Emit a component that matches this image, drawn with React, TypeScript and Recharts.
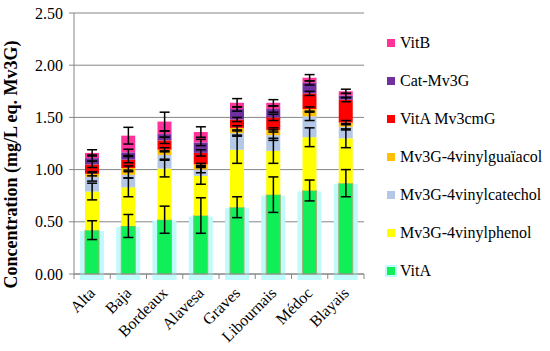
import React from 'react';
import { ComposedChart, Bar, Line, ErrorBar, XAxis, YAxis, CartesianGrid, Legend } from 'recharts';

const categories = ['Alta', 'Baja', 'Bordeaux', 'Alavesa', 'Graves', 'Libournais', 'Médoc', 'Blayais'];

// stacked segments, bottom to top
const vitA = [0.42, 0.46, 0.52, 0.56, 0.64, 0.76, 0.80, 0.87];
const vinylphenol = [0.37, 0.37, 0.49, 0.38, 0.55, 0.42, 0.51, 0.43];
const vinylcatechol = [0.14, 0.12, 0.13, 0.06, 0.16, 0.15, 0.20, 0.11];
const vinylguaiacol = [0.03, 0.065, 0.05, 0.05, 0.05, 0.05, 0.07, 0.04];
const vitAMv3cmG = [0.09, 0.08, 0.09, 0.11, 0.08, 0.12, 0.15, 0.22];
const catMv3G = [0.06, 0.07, 0.06, 0.10, 0.10, 0.08, 0.10, 0.04];
const vitB = [0.05, 0.16, 0.12, 0.10, 0.06, 0.06, 0.05, 0.04];

// +/- error of each segment
const vitAErr = [0.09, 0.11, 0.13, 0.17, 0.10, 0.17, 0.10, 0.13];
const vinylphenolErr = [0.08, 0.09, 0.08, 0.08, 0.13, 0.12, 0.09, 0.09];
const vinylcatecholErr = [0.04, 0.03, 0.04, 0.03, 0.02, 0.05, 0.04, 0.03];
const vinylguaiacolErr = [0.02, 0.02, 0.02, 0.01, 0.02, 0.02, 0.02, 0.02];
const vitAMv3cmGErr = [0.03, 0.03, 0.03, 0.03, 0.02, 0.03, 0.02, 0.02];
const catMv3GErr = [0.03, 0.03, 0.03, 0.03, 0.02, 0.03, 0.02, 0.02];
const vitBErr = [0.03, 0.08, 0.09, 0.05, 0.04, 0.03, 0.03, 0.02];

const yTicks = [0, 0.5, 1, 1.5, 2, 2.5];

const series = [
  { key: 'vitA', name: 'VitA', color: '#10ee58', values: vitA, errors: vitAErr },
  { key: 'phenol', name: 'Mv3G-4vinylphenol', color: '#ffff00', values: vinylphenol, errors: vinylphenolErr },
  { key: 'catechol', name: 'Mv3G-4vinylcatechol', color: '#b4c7e7', values: vinylcatechol, errors: vinylcatecholErr },
  { key: 'guaiacol', name: 'Mv3G-4vinylguaïacol', color: '#ffc000', values: vinylguaiacol, errors: vinylguaiacolErr },
  { key: 'cmg', name: 'VitA Mv3cmG', color: '#ff0000', values: vitAMv3cmG, errors: vitAMv3cmGErr },
  { key: 'cat', name: 'Cat-Mv3G', color: '#7030a0', values: catMv3G, errors: catMv3GErr },
  { key: 'vitB', name: 'VitB', color: '#ff3399', values: vitB, errors: vitBErr },
];

const data = categories.map((name, i) => {
  const row: any = { name };
  let sum = 0;
  series.forEach((s) => {
    sum += s.values[i];
    row[s.key] = s.values[i];
    row[s.key + 'Top'] = sum;
    row[s.key + 'Err'] = s.errors[i];
  });
  return row;
});

const FONT = '"Liberation Serif", "Times New Roman", "DejaVu Serif", serif';
const AXIS = '#868686';

// green bar with the pale cyan halo behind it
const VitAShape = (props: any) => {
  const { x, y, width, height, fill } = props;
  return (
    <g>
      <rect x={x - 5} y={y + 1} width={width + 10} height={height + 5} fill="#c0fafa" />
      <rect x={x} y={y} width={width} height={height} fill={fill} stroke="#a3b27a" strokeWidth={1} />
    </g>
  );
};

const XTick = (props: any) => {
  const { x, y, payload, index, width, visibleTicksCount } = props;
  const step = width && visibleTicksCount ? width / visibleTicksCount : 36.25;
  const tx = x + 4;
  const ty = y + 20;
  return (
    <g>
      {index === 0 && <line x1={x - step / 2} x2={x - step / 2} y1={y} y2={y + 5} stroke={AXIS} />}
      <line x1={x + step / 2} x2={x + step / 2} y1={y} y2={y + 5} stroke={AXIS} />
      <text x={tx} y={ty} transform={`rotate(-45 ${tx} ${ty})`} textAnchor="end" fontSize={16} style={{ fontFamily: FONT }} fill="#000">
        {payload.value}
      </text>
    </g>
  );
};

const YTitle = (props: any) => {
  const vb = props.viewBox;
  const cx = vb.x + 17;
  const cy = vb.y + vb.height / 2 + 21;
  return (
    <text x={cx} y={cy} transform={`rotate(-90 ${cx} ${cy})`} textAnchor="middle" fontSize={18} fontWeight="bold" style={{ fontFamily: FONT }} fill="#000">
      Concentration (mg/L eq. Mv3G)
    </text>
  );
};

const renderLegend = () => (
  <div style={{ fontFamily: FONT, fontSize: 16, color: '#000' }}>
    {[...series].reverse().map((s) => (
      <div key={s.key} style={{ height: 38, display: 'flex', alignItems: 'center', whiteSpace: 'nowrap' }}>
        <span
          style={{
            display: 'inline-block',
            width: 8,
            height: 8,
            marginRight: 5,
            background: s.color,
            boxShadow: s.key === 'vitA' ? '0 0 0 2px #c0fafa' : undefined,
          }}
        />
        {s.name}
      </div>
    ))}
  </div>
);

export default function App() {
  return (
    <div style={{ position: 'absolute', left: 0, top: 0, width: 550, height: 351, background: '#fff', fontFamily: FONT }}>
      <ComposedChart width={550} height={351} data={data} margin={{ top: 13, right: 186, bottom: 0, left: 0 }} style={{ fontFamily: FONT }}>
        <CartesianGrid horizontal vertical={false} stroke={AXIS} />
        <XAxis dataKey="name" height={77} tickSize={0} tickMargin={0} tickLine={false} axisLine={{ stroke: AXIS }} tick={<XTick />} interval={0} />
        <YAxis
          width={74}
          domain={[0, 2.5]}
          ticks={yTicks}
          tickFormatter={(v: number) => v.toFixed(2)}
          tickSize={5}
          tickMargin={6}
          tickLine={{ stroke: AXIS }}
          axisLine={{ stroke: AXIS }}
          tick={{ fill: '#000', fontSize: 16, style: { fontFamily: FONT } }}
          label={{ value: 'Concentration (mg/L eq. Mv3G)', content: <YTitle /> }}
        />
        {series.map((s) => (
          <Bar
            key={s.key}
            dataKey={s.key}
            name={s.name}
            stackId="a"
            fill={s.color}
            barSize={14}
            isAnimationActive={false}
            shape={s.key === 'vitA' ? <VitAShape /> : undefined}
          />
        ))}
        {series.map((s) => (
          <Line
            key={s.key + 'Top'}
            dataKey={s.key + 'Top'}
            stroke="none"
            dot={false}
            activeDot={false}
            legendType="none"
            isAnimationActive={false}
          >
            <ErrorBar dataKey={s.key + 'Err'} width={5} stroke="#000" strokeWidth={1.5} direction="y" />
          </Line>
        ))}
        <Legend
          layout="vertical"
          align="center"
          verticalAlign="middle"
          wrapperStyle={{ left: 387, top: 24, width: 163 }}
          content={renderLegend}
        />
      </ComposedChart>
    </div>
  );
}
